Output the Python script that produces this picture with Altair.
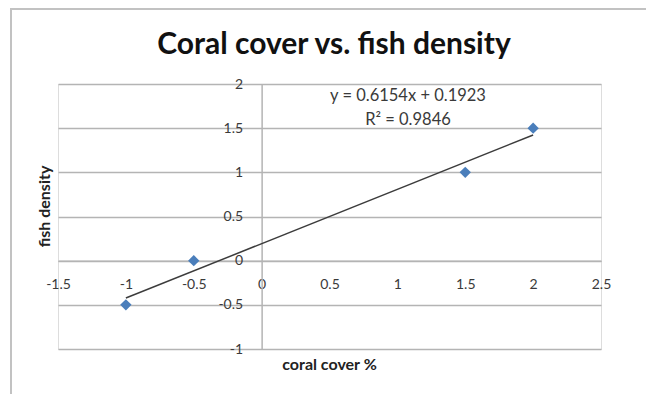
import altair as alt
import pandas as pd

# Observations: coral cover (%) against fish density
coral_cover = [-1.0, -0.5, 1.5, 2.0]
fish_density = [-0.5, 0.0, 1.0, 1.5]

x_ticks = [-1.5, -1.0, -0.5, 0.0, 0.5, 1.0, 1.5, 2.0, 2.5]
y_ticks = [-1.0, -0.5, 0.0, 0.5, 1.0, 1.5, 2.0]
equation_lines = ["y = 0.6154x + 0.1923", "R² = 0.9846"]
chart_title = "Coral cover vs. fish density"

X_DOMAIN = [-1.5, 2.5]
Y_DOMAIN = [-1.0, 2.0]

W, H = 543, 265          # plot area
PAD_L, PAD_T = 58, 84    # plot area offset inside the 646x394 canvas
PAD_R = 646 - PAD_L - W
PAD_B = 394 - PAD_T - H

FONT = "Lato"
GRID = "#b4b4b4"
TEXT = "#3a3a3a"

df = pd.DataFrame({"coral": coral_cover, "fish": fish_density})

# pixel position of the zero lines, where the two axes cross
x_zero = W * (0 - X_DOMAIN[0]) / (X_DOMAIN[1] - X_DOMAIN[0])
y_zero = H * (Y_DOMAIN[1] - 0) / (Y_DOMAIN[1] - Y_DOMAIN[0])

x_scale = alt.Scale(domain=X_DOMAIN, nice=False, zero=False)
y_scale = alt.Scale(domain=Y_DOMAIN, nice=False, zero=False)

# plain hyphen-minus labels without trailing zeros
LABEL_EXPR = "datum.value + ''"

x_axis = alt.Axis(
    values=x_ticks, offset=-(H - y_zero), grid=False,
    ticks=False, tickSize=0, domainColor=GRID, domainWidth=1.5,
    labelPadding=17, labelFlush=False, labelOverlap=False,
    labelExpr=LABEL_EXPR,
    labelFont=FONT, labelFontSize=14, labelColor=TEXT,
    title="coral cover %", titleFont=FONT, titleFontSize=16,
    titleFontWeight="bold", titleColor="#222222",
    titleX=329 - PAD_L, titleY=364 - (PAD_T + y_zero),
    titleAlign="center", titleBaseline="middle",
)
y_axis = alt.Axis(
    values=y_ticks, offset=-x_zero, grid=True, gridColor=GRID, gridWidth=1.5,
    ticks=False, tickSize=0, domainColor=GRID, domainWidth=1.5,
    labelPadding=19, labelFlush=False, labelOverlap=False,
    labelExpr=LABEL_EXPR,
    labelFont=FONT, labelFontSize=14, labelColor=TEXT,
    title="fish density", titleFont=FONT, titleFontSize=16,
    titleFontWeight="bold", titleColor="#222222", titleAngle=270,
    titleX=44 - PAD_L - x_zero, titleY=206 - PAD_T,
    titleAlign="center", titleBaseline="middle",
)

x_enc = alt.X("coral:Q", scale=x_scale, axis=x_axis)
y_enc = alt.Y("fish:Q", scale=y_scale, axis=y_axis)

one_row = pd.DataFrame({"k": [0]})

# outer chart border
frame = alt.Chart(one_row).mark_rect(
    fillOpacity=0, stroke="#c2c2c2", strokeWidth=2
).encode(
    x=alt.value(11 - PAD_L), x2=alt.value(W + 200),
    y=alt.value(9 - PAD_T), y2=alt.value(H + 200),
)

title = alt.Chart(one_row).mark_text(
    font=FONT, fontSize=30, fontWeight="bold", color="#111111",
    align="center", baseline="alphabetic",
).encode(
    x=alt.value(334 - PAD_L), y=alt.value(54 - PAD_T),
    text=alt.value(chart_title),
)

trend = alt.Chart(df).transform_regression("coral", "fish").mark_line(
    color="#3c3c3c", strokeWidth=1.5
).encode(x=x_enc, y=y_enc)

points = alt.Chart(df).mark_point(
    shape="diamond", filled=True, size=130, color="#4a7ebb", opacity=1
).encode(x=x_enc, y=y_enc)

equation = alt.Chart(one_row).mark_text(
    font=FONT, fontSize=16.5, color=TEXT, align="center", baseline="middle",
    lineHeight=24,
).encode(
    x=alt.value(408 - PAD_L), y=alt.value(96 - PAD_T),
    text=alt.value(equation_lines),
)

chart = alt.layer(frame, title, trend, points, equation).properties(
    width=W, height=H,
    autosize=alt.AutoSizeParams(type="none"),
    padding={"left": PAD_L, "top": PAD_T, "right": PAD_R, "bottom": PAD_B},
).configure_view(stroke=None).configure(background="white")

chart.save("out.html", embed_options={"renderer": "svg", "actions": False})
